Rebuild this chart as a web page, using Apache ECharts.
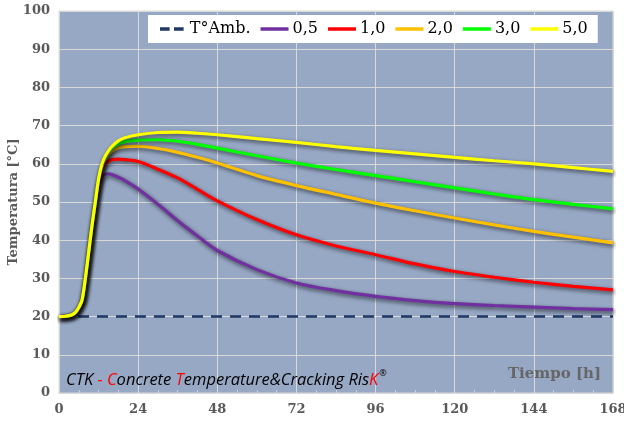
<!DOCTYPE html>
<html><head><meta charset="utf-8">
<script src="https://cdn.jsdelivr.net/npm/echarts@6/dist/echarts.min.js"></script>
<style>html,body{margin:0;padding:0;background:#fff}#c{width:624px;height:421px}</style>
</head><body><div id="c"></div>
<script>
const hours = [0,2,4,5,6,7,8,9,10,11,12,13,14,15,16,18,20,24,30,36,42,48,60,72,84,96,108,120,132,144,156,168];
const ambient = [20,20,20,20,20,20,20,20,20,20,20,20,20,20,20,20,20,20,20,20,20,20,20,20,20,20,20,20,20,20,20,20];
const s05 = [20,20.1,20.5,21.1,22.4,24.4,30,36.6,43.5,49.5,54,56.5,57.3,57.4,57.2,56.5,55.6,53.4,49.4,45.1,41.1,37.3,32.3,28.8,26.8,25.3,24.2,23.4,22.9,22.5,22.1,21.8];
const s10 = [20,20.1,20.5,21.1,22.4,24.4,30,36.7,43.7,49.8,55.5,58.5,60,60.7,61.1,61.2,61.1,60.6,58.6,56.3,53.3,50.3,45.4,41.4,38.5,36.2,33.8,31.8,30.3,29,27.9,27];
const s20 = [20,20.1,20.5,21.1,22.4,24.4,30,36.8,43.8,49.9,55.8,59.3,61.3,62.5,63.3,64.2,64.5,64.6,64,63,61.7,60.2,56.9,54.3,52,49.7,47.7,45.8,44,42.3,40.8,39.3];
const s30 = [20,20.1,20.5,21.1,22.4,24.4,30,36.8,43.8,49.9,56,59.6,61.8,63.2,64.1,65.2,65.8,66.2,66.3,65.9,65.1,64.1,62.1,60.2,58.5,56.9,55.3,53.7,52.1,50.6,49.4,48.2];
const s50 = [20,20.1,20.5,21.1,22.4,24.4,30,36.8,43.8,49.9,56,59.9,62,63.4,64.5,66,66.8,67.6,68.2,68.3,68,67.6,66.6,65.6,64.5,63.5,62.6,61.7,60.8,60,59,58];
const names = ['T°Amb.','0,5','1,0','2,0','3,0','5,0'];
const colors = ['#1f3864','#7030a0','#ff0000','#ffc000','#00ff00','#ffff00'];
const values = [ambient,s05,s10,s20,s30,s50];
const xTicks = [0,24,48,72,96,120,144,168];

const chart = echarts.init(document.getElementById('c'), null, {renderer:'canvas'});
const serif = 'DejaVu Serif';
const series = names.map((n,i)=>({
  name:n, type:'line', smooth: i>0 ? 0.3 : false, symbol:'none', z: 2+i,
  data: hours.map((h,j)=>[h, values[i][j]]),
  lineStyle: i===0 ? {color:colors[i], width:2.5, type:[11,8]} :
    {color:colors[i], width:3.2, shadowColor:'rgba(0,0,0,0.65)', shadowBlur:4, shadowOffsetX:1.5, shadowOffsetY:2},
  itemStyle:{color:colors[i]}
}));
const dashIcon = 'path://M0,0h11v4h-11z M16,0h11v4h-11z';
chart.setOption({
  animation:false,
  backgroundColor:'#ffffff',
  grid:{left:59, right:11, top:11, bottom:28, containLabel:false, outerBoundsMode:'none',
    show:true, backgroundColor:'#97a8c5', borderColor:'#d9d9d9', borderWidth:1},
  legend:{
    left:148, top:15, padding:[6,10,6,12], itemGap:10, itemWidth:28, itemHeight:3.5,
    backgroundColor:'#ffffff',
    data: names.map((n,i)=>({name:n, icon: i===0 ? dashIcon : 'rect'})),
    textStyle:{fontFamily:serif, fontSize:16, color:'#000', padding:[0,0,0,-1]}
  },
  xAxis:{
    type:'value', min:0, max:168, interval:24,
    axisLine:{show:true, lineStyle:{color:'#d9d9d9'}},
    axisTick:{show:true, inside:true, length:4, lineStyle:{color:'#d9d9d9'}},
    minorTick:{show:true, splitNumber:4, length:3, lineStyle:{color:'#c9d1de'}},
    splitLine:{show:true, lineStyle:{color:'#d9d9d9', width:1}},
    axisLabel:{fontFamily:serif, fontWeight:'bold', fontSize:13, color:'#595959', margin:10,
      formatter:v=> xTicks.includes(v) ? String(v) : ''}
  },
  yAxis:{
    type:'value', min:0, max:100, interval:10,
    name:'Temperatura [°C]', nameLocation:'middle', nameGap:39, nameRotate:90, nameMoveOverlap:false,
    nameTextStyle:{fontFamily:serif, fontWeight:'bold', fontSize:13, color:'#595959'},
    axisLine:{show:true, lineStyle:{color:'#d9d9d9'}},
    axisTick:{show:false},
    splitLine:{show:true, lineStyle:{color:'#d9d9d9', width:1}},
    axisLabel:{fontFamily:serif, fontWeight:'bold', fontSize:13, color:'#595959', margin:9}
  },
  graphic:[
    {type:'text', right:23, top:367, z:10, style:{text:'Tiempo [h]', fontFamily:serif, fontWeight:'bold', fontSize:15, fill:'#666666'}},
    {type:'text', left:66, top:369, z:10, style:{
      text:'{b|CTK }{r|- C}{b|oncrete }{r|T}{b|emperature&Cracking Ris}{r|K}{s|®}',
      rich:{
        b:{fontFamily:'Open Sans', fontStyle:'italic', fontSize:16.5, fill:'#000000'},
        r:{fontFamily:'Open Sans', fontStyle:'italic', fontSize:16.5, fill:'#ff0000'},
        s:{fontFamily:'Open Sans', fontStyle:'italic', fontSize:9, fill:'#000000', padding:[0,0,14,1]}
      }
    }}
  ],
  series:series
});
</script></body></html>
